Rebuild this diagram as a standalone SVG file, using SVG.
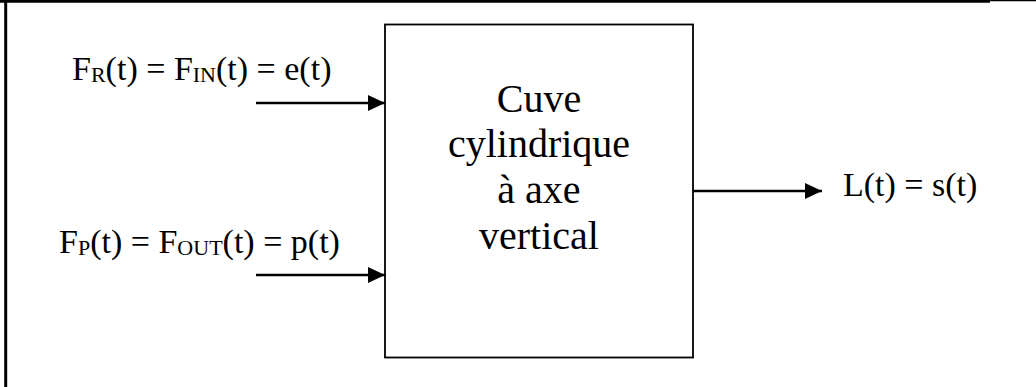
<svg xmlns="http://www.w3.org/2000/svg" width="1036" height="387" viewBox="0 0 1036 387">
<defs>
<style>
.lbl{font-family:"Liberation Serif","Times New Roman",serif;font-size:34px;fill:#000}
.box{font-family:"Liberation Serif","Times New Roman",serif;font-size:40px;fill:#000;text-anchor:middle}
.sub{font-size:22px}
.conn{stroke:#000;stroke-width:2.3;fill:none}
</style>
<marker id="ah" viewBox="0 0 17 16" refX="17" refY="8" markerWidth="17" markerHeight="16" markerUnits="userSpaceOnUse" orient="auto">
<path d="M0,0 L17,8 L0,16 Z" fill="#000"/>
</marker>
</defs>
<rect width="1036" height="387" fill="#fff"/>
<g id="frame">
<line x1="0" y1="1.3" x2="990" y2="1.3" stroke="#000" stroke-width="2.7"/>
<line x1="990" y1="0.6" x2="1036" y2="0.6" stroke="#000" stroke-width="1.3"/>
<line x1="5.7" y1="0" x2="5.7" y2="387" stroke="#000" stroke-width="3"/>
</g>
<g id="tank">
<rect x="385" y="24.5" width="308" height="333" fill="#fff" stroke="#000" stroke-width="1.8"/>
<text class="box" x="539" y="112">Cuve</text>
<text class="box" x="539" y="157">cylindrique</text>
<text class="box" x="539" y="203">à axe</text>
<text class="box" x="539" y="249">vertical</text>
</g>
<g id="input-e">
<text class="lbl" x="72" y="80">F<tspan class="sub" dy="2">R</tspan><tspan dy="-2">(t) = F</tspan><tspan class="sub" dy="2">IN</tspan><tspan dy="-2">(t) = e(t)</tspan></text>
</g>
<g id="input-p">
<text class="lbl" x="59" y="253">F<tspan class="sub" dy="2">P</tspan><tspan dy="-2">(t) = F</tspan><tspan class="sub" dy="2">OUT</tspan><tspan dy="-2">(t) = p(t)</tspan></text>
</g>
<g id="output-s">
<text class="lbl" x="843" y="196">L(t) = s(t)</text>
</g>
<g id="connectors">
<line class="conn" x1="256" y1="103" x2="385" y2="103" marker-end="url(#ah)"/>
<line class="conn" x1="256" y1="275" x2="385" y2="275" marker-end="url(#ah)"/>
<line class="conn" x1="693" y1="191" x2="822" y2="191" marker-end="url(#ah)"/>
</g>
</svg>
